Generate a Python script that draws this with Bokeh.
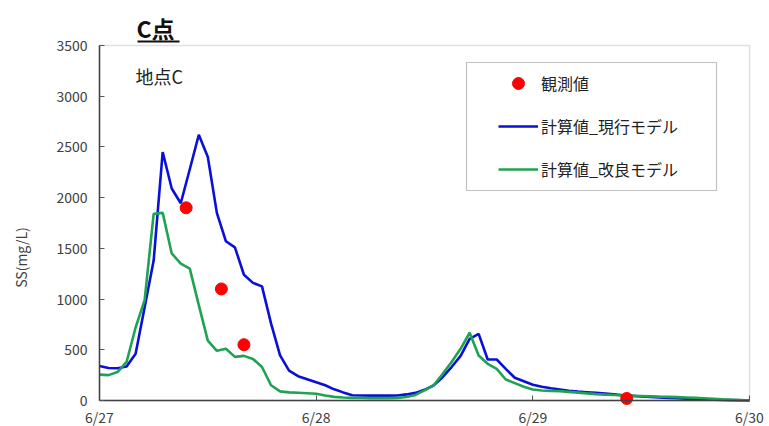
import math
from bokeh.plotting import figure
from bokeh.models import (ColumnDataSource, FixedTicker, Legend, LegendItem,
                          Label, BoxAnnotation, Range1d)
from bokeh.embed import file_html
from bokeh.resources import INLINE

# ---- data (hours from 6/27 00:00) ----
hours = list(range(0, 73))
current_model = [340, 320, 318, 335, 460, 920, 1380, 2450, 2090, 1945,
                 2280, 2620, 2400, 1850, 1570, 1510, 1240, 1160, 1125, 760,
                 445, 295, 240, 210, 180, 150, 110, 80, 52, 49,
                 48, 48, 48, 49, 60, 75, 105, 148, 230, 330,
                 440, 608, 657, 404, 404, 312, 224, 190, 155, 135,
                 120, 108, 96, 88, 82, 75, 68, 60, 52, 46,
                 40, 35, 30, 26, 22, 18, 15, 12, 9, 6,
                 4, 2, 0]
improved_model = [255, 250, 280, 380, 720, 990, 1840, 1850, 1450, 1350,
                  1300, 940, 590, 490, 510, 430, 440, 410, 330, 150,
                  90, 80, 76, 72, 66, 50, 36, 30, 26, 24,
                  23, 23, 23, 25, 35, 55, 100, 148, 260, 380,
                  510, 668, 444, 362, 312, 207, 171, 135, 108, 99,
                  95, 92, 85, 78, 70, 63, 58, 54, 50, 47,
                  44, 41, 38, 36, 33, 30, 27, 22, 17, 12,
                  8, 4, 0]
obs_hours = [9.6, 13.5, 16.0, 58.4]
obs_values = [1900, 1100, 550, 20]

x_ticks = [0, 24, 48, 72]
x_tick_labels = ["6/27", "6/28", "6/29", "6/30"]
y_ticks = [0, 500, 1000, 1500, 2000, 2500, 3000, 3500]

title_text = "C点"
station_text = "地点C"
y_label = "SS(mg/L)"
series_names = ["観測値", "計算値_現行モデル", "計算値_改良モデル"]

FONT = "Noto Sans CJK JP"
TXT = "#404040"

# ---- layout: the frame covers the whole canvas; plot area is mapped inside ----
W, H = 769, 426
PL, PR, PT, PB = 99, 749, 45, 400          # plot-area pixel box
X0, X1 = x_ticks[0], x_ticks[-1]
Y0, Y1 = y_ticks[0], y_ticks[-1]
sx = (X1 - X0) / (PR - PL)
sy = (Y1 - Y0) / (PB - PT)
x_range = Range1d(X0 - PL * sx, X1 + (W - PR) * sx)
y_range = Range1d(Y0 - (H - PB) * sy, Y1 + PT * sy)

p = figure(width=W, height=H, output_backend="svg", toolbar_location=None,
           x_range=x_range, y_range=y_range,
           min_border=0, min_border_left=0, min_border_right=0,
           min_border_top=0, min_border_bottom=0)
p.grid.visible = False
p.outline_line_color = None

# plot-area frame (grey top/right; axes draw the dark left/bottom)
p.add_layout(BoxAnnotation(left=X0, right=X1, bottom=Y0, top=Y1,
                           fill_alpha=0, line_color="#9a9a9a",
                           line_width=1.5, level="underlay"))

src_c = ColumnDataSource(dict(x=hours, y=current_model))
src_i = ColumnDataSource(dict(x=hours, y=improved_model))
src_o = ColumnDataSource(dict(x=obs_hours, y=obs_values))

r_cur = p.line("x", "y", source=src_c, line_color="#0a10d8", line_width=2.6)
r_imp = p.line("x", "y", source=src_i, line_color="#1ea352", line_width=2.6)
r_obs = p.scatter("x", "y", source=src_o, size=12, fill_color="#ff0000",
                  line_color="#ff0000")

# axes fixed at the plot-area edges
p.xaxis.fixed_location = Y0
p.yaxis.fixed_location = X0
p.xaxis.bounds = (X0, X1)
p.yaxis.bounds = (Y0, Y1)
p.xaxis.ticker = FixedTicker(ticks=x_ticks)
p.xaxis.major_label_overrides = {t: l for t, l in zip(x_ticks, x_tick_labels)}
p.yaxis.ticker = FixedTicker(ticks=y_ticks)
for ax in (p.xaxis, p.yaxis):
    ax.minor_tick_line_color = None
    ax.major_tick_in = 5
    ax.major_tick_out = 0
    ax.major_tick_line_color = "#555555"
    ax.axis_line_color = "#404040"
    ax.axis_line_width = 1.5
    ax.major_label_text_font = FONT
    ax.major_label_text_font_size = "14px"
    ax.major_label_text_color = TXT
p.xaxis.major_label_standoff = 6
p.yaxis.major_label_standoff = 12

# legend box
box = BoxAnnotation(left=466, right=716, top=62, bottom=190,
                    left_units="canvas", right_units="canvas",
                    top_units="canvas", bottom_units="canvas",
                    fill_color="white", fill_alpha=1.0,
                    line_color="#333333", line_width=1.2)
p.add_layout(box)

legend = Legend(items=[LegendItem(label=series_names[0], renderers=[r_obs]),
                       LegendItem(label=series_names[1], renderers=[r_cur]),
                       LegendItem(label=series_names[2], renderers=[r_imp])],
                location=(498, 242), padding=0, margin=0, spacing=13,
                glyph_width=40, glyph_height=30, label_height=20,
                label_standoff=3, border_line_alpha=0,
                background_fill_alpha=0,
                label_text_font=FONT, label_text_font_size="16px",
                label_text_color="#222222")
p.add_layout(legend)

# texts
p.add_layout(Label(x=135, y=75, x_units="canvas", y_units="canvas",
                   text=station_text, text_font=FONT, text_font_size="18px",
                   text_color="#222222", text_baseline="middle"))
p.add_layout(Label(x=136, y=27, x_units="canvas", y_units="canvas",
                   text=title_text, text_font=FONT, text_font_size="23px",
                   text_font_style="bold", text_color="#111111",
                   text_baseline="middle"))
p.add_layout(BoxAnnotation(left=137, right=179, top=40, bottom=42,
                           left_units="canvas", right_units="canvas",
                           top_units="canvas", bottom_units="canvas",
                           fill_color="#111111", fill_alpha=1.0,
                           line_alpha=0))
p.add_layout(Label(x=20, y=257, x_units="canvas", y_units="canvas",
                   text=y_label, angle=math.pi / 2, text_font=FONT,
                   text_font_size="14px", text_color=TXT,
                   text_align="center", text_baseline="middle"))

open("out.html", "w").write(file_html(p, INLINE))
